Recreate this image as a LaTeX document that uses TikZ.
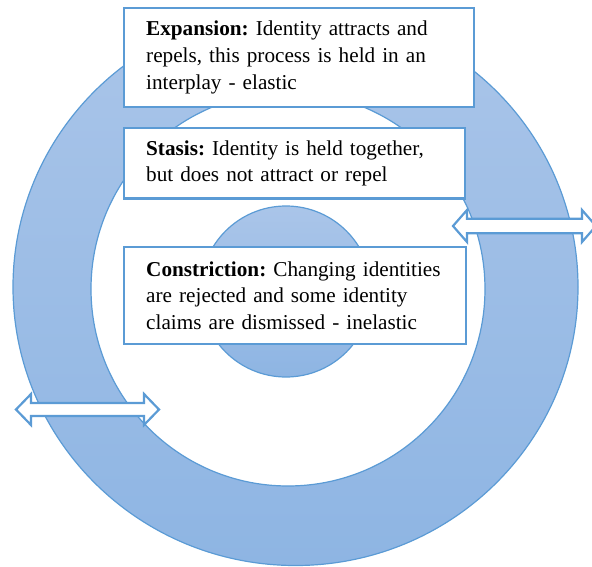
\documentclass[tikz,border=0pt]{standalone}
\usepackage{fontspec}
\setmainfont{Liberation Serif}

\definecolor{lineblue}{RGB}{91,155,213}
\definecolor{ringtop}{RGB}{170,197,233}
\definecolor{ringbottom}{RGB}{142,181,227}

\newcommand\statefont{\fontsize{21.2}{26.8}\selectfont\raggedright\frenchspacing\spaceskip=0.25em\relax}

\tikzset{
  infobox/.style={draw=lineblue, line width=2.4pt, fill=white, anchor=north west,
    inner xsep=22pt, inner ysep=0pt, font=\statefont},
  arrowbox/.style={draw=lineblue, line width=2.2pt, fill=white, line join=miter},
  ringshade/.style={top color=ringtop, bottom color=ringbottom},
  ringline/.style={draw=lineblue, line width=1.2pt},
}

\begin{document}
\begin{tikzpicture}[x=1pt, y=-1pt]
\useasboundingbox (0,0) rectangle (592,567);
\coordinate (outer) at (295.5,287);
\coordinate (hub) at (288,289);
\coordinate (core) at (286,291.5);

% the ring
\path[ringshade, even odd rule] (outer) ellipse [x radius=282.5, y radius=278.5] (hub) circle [radius=197];
\path[ringline] (outer) ellipse [x radius=282.5, y radius=278.5] (hub) circle [radius=197];

% the core
\path[ringshade] (core) circle [radius=85.5];
\path[ringline] (core) circle [radius=85.5];

% the three states
\node[infobox, minimum height=99, text width=306] (expansion) at (123,7)
  {\textbf{Expansion:} Identity attracts and\\repels, this process is held in an\\interplay - elastic};
\node[infobox, minimum height=70.5, text width=297] (stasis) at (123,127)
  {\textbf{Stasis:} Identity is held together,\\but does not attract or repel};
\node[infobox, minimum height=97, text width=298] (constriction) at (123,246)
  {\textbf{Constriction:} Changing identities\\are rejected and some identity\\claims are dismissed - inelastic};

% two-way arrows across the ring
\draw[arrowbox] (453,226) coordinate (rarrow) -- ++(14,-16) -- ++(0,8.75) -- ++(115,0) -- ++(0,-8.75)
  -- ++(14,16) -- ++(-14,16) -- ++(0,-8.75) -- ++(-115,0) -- ++(0,8.75) -- cycle;
\draw[arrowbox] (16,409.5) coordinate (larrow) -- ++(15,-15.5) -- ++(0,9) -- ++(113,0) -- ++(0,-9)
  -- ++(15,15.5) -- ++(-15,15.5) -- ++(0,-9) -- ++(-113,0) -- ++(0,9) -- cycle;
\end{tikzpicture}
\end{document}
